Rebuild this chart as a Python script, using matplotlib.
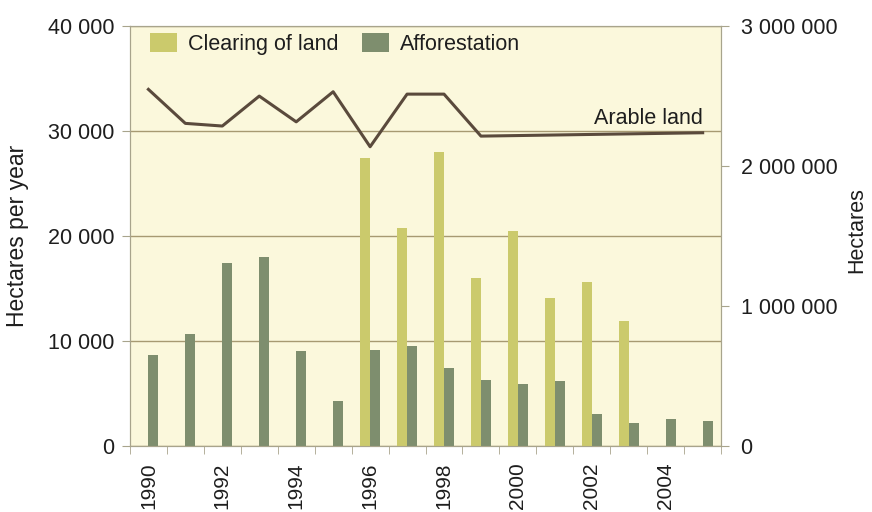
import matplotlib
matplotlib.use("Agg")
import matplotlib.pyplot as plt
import numpy as np

plt.rcParams["font.family"] = ["Liberation Sans", "DejaVu Sans"]

# ── data ──────────────────────────────────────────────────────────────────────
years = list(range(1990, 2006))
clearing = [0, 0, 0, 0, 0, 0, 27400, 20800, 28000, 16000,
            20500, 14100, 15600, 11900, 0, 0]
afforestation = [8700, 10700, 17400, 18000, 9000, 4300, 9100, 9500, 7400, 6300,
                 5900, 6200, 3000, 2200, 2600, 2400]
arable = [2548000, 2305000, 2286000, 2500000, 2316000, 2531000, 2138000, 2514000,
          2514000, 2214000, 2218000, 2222000, 2226000, 2230000, 2234000, 2238000]
year_labels = [str(y) if y % 2 == 0 else "" for y in years]

# ── colours ───────────────────────────────────────────────────────────────────
BG = "#fbf8dc"
CLEAR = "#cbca6c"
AFFOR = "#7e8e6e"
LINE = "#5a4a3c"
GRID = "#a79a72"
SPINE = "#a8a48c"
TXT = "#1e1e1e"

FS = 15.5


def fmt(v, _=None):
    return f"{v:,.0f}".replace(",", " ")


fig = plt.figure(figsize=(8.72, 5.12), dpi=100)
ax = fig.add_axes([0.149, 0.129, 0.678, 0.820])
ax.set_facecolor(BG)

x = np.arange(len(years))
w = 0.27
ax.bar(x - w / 2, clearing, width=w, color=CLEAR, label="Clearing of land", zorder=3)
ax.bar(x + w / 2, afforestation, width=w, color=AFFOR, label="Afforestation", zorder=3)

ax.set_xlim(-0.5, len(years) - 0.5)
ax.set_ylim(0, 40000)
ax.set_yticks([0, 10000, 20000, 30000, 40000])
ax.yaxis.set_major_formatter(plt.FuncFormatter(fmt))
ax.grid(axis="y", color=GRID, linewidth=1.0, zorder=1)

ax.set_xticks(x)
ax.set_xticklabels(year_labels, rotation=90, fontsize=15, color=TXT)
ax.set_xticks(np.arange(len(years) + 1) - 0.5, minor=True)
ax.tick_params(axis="x", which="major", length=0, pad=12)
ax.tick_params(axis="x", which="minor", length=6, color=SPINE)
ax.tick_params(axis="y", length=6, pad=5, labelsize=FS, color=SPINE, labelcolor=TXT)

for s in ax.spines.values():
    s.set_color(SPINE)

ax.set_ylabel("Hectares per year", fontsize=16.5, labelpad=14, color=TXT)

# ── arable land on right axis ─────────────────────────────────────────────────
ax2 = ax.twinx()
ax2.plot(x, arable, color=LINE, linewidth=2.2, zorder=5)
ax2.set_ylim(0, 3000000)
ax2.set_yticks([0, 1000000, 2000000, 3000000])
ax2.yaxis.set_major_formatter(plt.FuncFormatter(fmt))
ax2.tick_params(axis="y", length=6, pad=8, labelsize=FS, color=SPINE, labelcolor=TXT)
for s in ax2.spines.values():
    s.set_color(SPINE)
ax2.text(x[-1], arable[-1] + 25000, "Arable land", ha="right", va="bottom",
         fontsize=FS, color=TXT)
fig.text(0.982, 0.55, "Hectares", rotation=90, ha="center", va="center",
         fontsize=FS, color=TXT)

ax.legend(loc="upper left", bbox_to_anchor=(0.034, 0.983), ncol=2, frameon=False,
          fontsize=FS, handlelength=1.25, handleheight=0.95, handletextpad=0.5,
          columnspacing=1.1, borderpad=0, borderaxespad=0, labelcolor=TXT)

fig.savefig("out.png", dpi=100, facecolor="white")
